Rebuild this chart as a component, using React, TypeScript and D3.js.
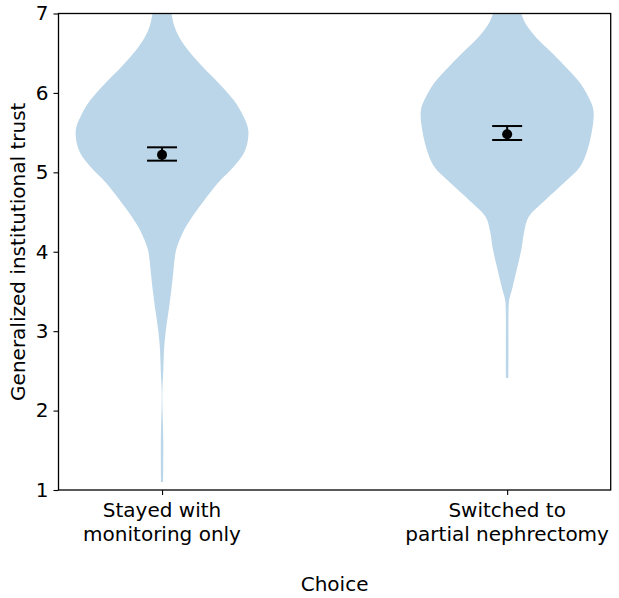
import { useEffect, useRef } from 'react';
import * as d3 from 'd3';

// Group labels (two lines each) and their x positions
const categories = ['Stayed with\nmonitoring only', 'Switched to\npartial nephrectomy'];
const positions = [1, 2];

// Estimated density profiles (trust value, density relative to the group's peak)
const stayedTrust = [1.1, 1.13, 1.38, 1.63, 1.88, 2.07, 2.26, 2.51, 2.76, 3.01, 3.27, 3.52, 3.77, 3.9, 4.03, 4.24, 4.44, 4.65, 4.87, 5.07, 5.28, 5.53, 5.7, 5.91, 6.12, 6.33, 6.54, 6.7, 6.85, 7.0];
const stayedDensity = [0.011, 0.012, 0.014, 0.014, 0.009, 0.004, 0.004, 0.015, 0.023, 0.044, 0.078, 0.108, 0.133, 0.145, 0.165, 0.24, 0.35, 0.49, 0.65, 0.83, 0.965, 1.0, 0.945, 0.83, 0.66, 0.47, 0.3, 0.2, 0.14, 0.11];

const switchedTrust = [2.41, 2.45, 2.8, 3.18, 3.39, 3.52, 3.77, 4.03, 4.24, 4.44, 4.65, 4.87, 5.07, 5.28, 5.57, 5.78, 5.91, 6.12, 6.33, 6.54, 6.66, 6.8, 6.9, 7.0];
const switchedDensity = [0.013, 0.014, 0.015, 0.015, 0.023, 0.055, 0.11, 0.165, 0.195, 0.25, 0.44, 0.66, 0.845, 0.93, 0.99, 1.0, 0.96, 0.85, 0.675, 0.485, 0.37, 0.26, 0.2, 0.163];

// Mean and interval per group
const means = [5.22, 5.48];
const ciLow = [5.147, 5.407];
const ciHigh = [5.315, 5.583];

const yTicks = [1, 2, 3, 4, 5, 6, 7];

const WIDTH = 619;
const HEIGHT = 598;
const FONT = '"DejaVu Sans", Verdana, sans-serif';
const FONT_SIZE = 20;

export default function App() {
  const svgRef = useRef<SVGSVGElement>(null);

  useEffect(() => {
    if (!svgRef.current) return;
    const svg = d3.select(svgRef.current);
    svg.selectAll('*').remove();

    const left = 58.5;
    const right = 610.7;
    const top = 13.5;
    const bottom = 490;

    const x = d3.scaleLinear().domain([0.7, 2.3]).range([left, right]);
    const y = d3.scaleLinear().domain([1, 7]).range([bottom, top]);
    const halfWidth = 0.25; // violin width 0.5 in x units

    svg
      .append('defs')
      .append('clipPath')
      .attr('id', 'plot-clip')
      .append('rect')
      .attr('x', left)
      .attr('y', top)
      .attr('width', right - left)
      .attr('height', bottom - top);

    const violins = [
      { trust: stayedTrust, density: stayedDensity },
      { trust: switchedTrust, density: switchedDensity },
    ];

    const plot = svg.append('g').attr('clip-path', 'url(#plot-clip)');

    violins.forEach((v, i) => {
      const pts = v.trust.map((t, k) => ({ t, d: v.density[k] }));
      const pos = positions[i];
      const area = d3
        .area<{ t: number; d: number }>()
        .y((p) => y(p.t))
        .x0((p) => x(pos - p.d * halfWidth))
        .x1((p) => x(pos + p.d * halfWidth))
        .curve(d3.curveCatmullRom.alpha(0.5));
      plot
        .append('path')
        .attr('d', area(pts) as string)
        .attr('fill', '#1f77b4')
        .attr('fill-opacity', 0.3);
    });

    // Mean with interval caps
    const capHalf = 15;
    positions.forEach((pos, i) => {
      const cx = x(pos);
      const g = svg.append('g').attr('stroke', '#000').attr('stroke-width', 2);
      g.append('line')
        .attr('x1', cx)
        .attr('x2', cx)
        .attr('y1', y(ciLow[i]))
        .attr('y2', y(ciHigh[i]));
      [ciLow[i], ciHigh[i]].forEach((c) => {
        g.append('line')
          .attr('x1', cx - capHalf)
          .attr('x2', cx + capHalf)
          .attr('y1', y(c))
          .attr('y2', y(c));
      });
      svg
        .append('circle')
        .attr('cx', cx)
        .attr('cy', y(means[i]))
        .attr('r', 5)
        .attr('fill', '#000');
    });

    // Frame
    svg
      .append('rect')
      .attr('x', left)
      .attr('y', top)
      .attr('width', right - left)
      .attr('height', bottom - top)
      .attr('fill', 'none')
      .attr('stroke', '#000')
      .attr('stroke-width', 1.3);

    // Y axis
    const yAxis = svg
      .append('g')
      .attr('transform', `translate(${left},0)`)
      .call(d3.axisLeft(y).tickValues(yTicks).tickSize(5).tickPadding(5).tickFormat(d3.format('d')));
    yAxis.select('.domain').remove();
    yAxis.selectAll('line').attr('stroke', '#000').attr('stroke-width', 1.1);
    yAxis
      .selectAll('text')
      .attr('font-family', FONT)
      .attr('font-size', FONT_SIZE)
      .attr('fill', '#000');

    // X axis ticks and two-line labels
    const xAxis = svg
      .append('g')
      .attr('transform', `translate(0,${bottom})`)
      .call(d3.axisBottom(x).tickValues(positions).tickSize(5).tickFormat(() => ''));
    xAxis.select('.domain').remove();
    xAxis.selectAll('line').attr('stroke', '#000').attr('stroke-width', 1.1);

    positions.forEach((pos, i) => {
      const lines = categories[i].split('\n');
      const t = svg
        .append('text')
        .attr('text-anchor', 'middle')
        .attr('font-family', FONT)
        .attr('font-size', FONT_SIZE)
        .attr('fill', '#000');
      lines.forEach((ln, k) => {
        t.append('tspan')
          .attr('x', x(pos))
          .attr('y', 517 + k * 23.5)
          .text(ln);
      });
    });

    // Axis titles
    svg
      .append('text')
      .attr('x', (left + right) / 2)
      .attr('y', 591)
      .attr('text-anchor', 'middle')
      .attr('font-family', FONT)
      .attr('font-size', FONT_SIZE)
      .attr('fill', '#000')
      .text('Choice');

    svg
      .append('text')
      .attr('transform', `translate(25,${(top + bottom) / 2}) rotate(-90)`)
      .attr('text-anchor', 'middle')
      .attr('font-family', FONT)
      .attr('font-size', FONT_SIZE)
      .attr('fill', '#000')
      .text('Generalized institutional trust');
  }, []);

  return (
    <svg
      ref={svgRef}
      width={WIDTH}
      height={HEIGHT}
      style={{ position: 'absolute', left: 0, top: 0, background: '#fff' }}
    />
  );
}
